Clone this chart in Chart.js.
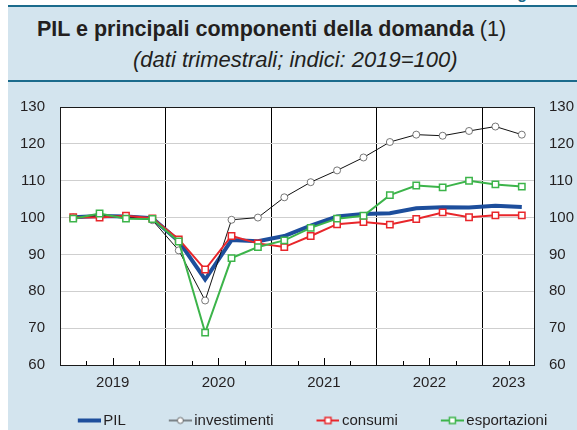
<!DOCTYPE html>
<html>
<head>
<meta charset="utf-8">
<script src="https://cdn.jsdelivr.net/npm/chart.js@4.4.1/dist/chart.umd.min.js"></script>
<style>
  html, body { margin: 0; padding: 0; background: #fff; }
  body { width: 577px; height: 430px; overflow: hidden; position: relative; font-family: "Liberation Sans", Arial, sans-serif; color: #231f20; }
  #fig { position: absolute; left: 503px; top: -14px; font: bold 16px/16px "Liberation Sans", Arial, sans-serif; color: #1b6b8c; white-space: nowrap; }
  #panel { position: absolute; left: 8px; top: 5px; width: 569px; height: 425px; background: #d3e4ee; border-top: 2px solid #1b6b8c; box-sizing: border-box; }
  #rule { position: absolute; left: 8px; top: 80px; width: 569px; height: 2px; background: #1b6b8c; }
  #title { position: absolute; left: 37px; top: 17px; font-size: 21.5px; font-weight: bold; white-space: nowrap; }
  #title span { font-weight: normal; }
  #subtitle { position: absolute; left: 133px; top: 47px; font-size: 22px; font-style: italic; white-space: nowrap; }
  #chart { position: absolute; left: 8px; top: 83px; }
</style>
</head>
<body>
<div id="fig">Figura</div>
<div id="panel"></div>
<div id="rule"></div>
<div id="title">PIL e principali componenti della domanda <span>(1)</span></div>
<div id="subtitle">(dati trimestrali; indici: 2019=100)</div>
<canvas id="chart" width="569" height="355"></canvas>
<script>
// dati trimestrali, 2019 T1 - 2023 T2
const trimestri = ['2019 T1', '2019 T2', '2019 T3', '2019 T4',
                   '2020 T1', '2020 T2', '2020 T3', '2020 T4',
                   '2021 T1', '2021 T2', '2021 T3', '2021 T4',
                   '2022 T1', '2022 T2', '2022 T3', '2022 T4',
                   '2023 T1', '2023 T2'];
const pil = [100.1, 100.4, 100.3, 99.8, 93.6, 83.2, 93.9, 93.6, 95.0,
             97.8, 100.3, 101.0, 101.2, 102.5, 102.8, 102.7, 103.2, 102.9];
const investimenti = [100.0, 100.5, 100.3, 99.3, 91.1, 77.5, 99.4, 100.0, 105.5,
                      109.6, 112.8, 116.3, 120.5, 122.5, 122.2, 123.5, 124.7, 122.5];
const consumi = [100.1, 100.0, 100.5, 99.8, 94.1, 85.9, 95.0, 93.0, 92.0,
                 95.0, 98.2, 98.8, 98.1, 99.6, 101.4, 100.1, 100.6, 100.6];
const esportazioni = [99.7, 101.1, 99.7, 99.6, 93.5, 68.8, 89.0, 92.0, 93.8,
                      97.2, 99.7, 100.5, 106.1, 108.7, 108.2, 110.0, 109.0, 108.4];
const yTicks = [60, 70, 80, 90, 100, 110, 120, 130];

const FONT = '"Liberation Sans", Arial, sans-serif';

// year of each quarter, year boundaries and year label positions
const anni = trimestri.map(t => t.slice(0, 4));
const confini = new Set();
const centriAnno = {};
anni.forEach((a, i) => {
    if (i > 0 && a !== anni[i - 1]) confini.add(i);
    const first = anni.indexOf(a);
    const last = anni.lastIndexOf(a);
    centriAnno[(first + last + 1) / 2] = a;
});

function toPoints(values) {
    return values.map((v, i) => ({x: i + 0.5, y: v}));
}

// legend icon: short line with a marker in the middle
function makeIcon(color, lineWidth, marker) {
    const c = document.createElement('canvas');
    c.width = 68;
    c.height = 12;
    const g = c.getContext('2d');
    const x0 = c.width - 23, cx = c.width - 11.5, cy = 6;
    g.strokeStyle = color;
    g.lineWidth = lineWidth;
    g.beginPath();
    g.moveTo(x0, cy);
    g.lineTo(c.width, cy);
    g.stroke();
    if (marker === 'rect') {
        g.fillStyle = '#fff';
        g.lineWidth = 1.5;
        g.fillRect(cx - 3, cy - 3, 6, 6);
        g.strokeRect(cx - 3, cy - 3, 6, 6);
    } else if (marker === 'circle') {
        g.fillStyle = '#fff';
        g.strokeStyle = '#666';
        g.lineWidth = 1;
        g.beginPath();
        g.arc(cx, cy, 3, 0, Math.PI * 2);
        g.fill();
        g.stroke();
    }
    return c;
}

const BLUE = '#1d4e9c';
const RED = '#e8262b';
const GREEN = '#3cb44a';

const icons = [
    makeIcon(BLUE, 4, null),
    makeIcon('#222', 1, 'circle'),
    makeIcon(RED, 2, 'rect'),
    makeIcon(GREEN, 2, 'rect')
];

const framePlugin = {
    id: 'frame',
    beforeDraw(chart) {
        const {ctx, chartArea: a} = chart;
        ctx.save();
        ctx.fillStyle = '#fff';
        ctx.fillRect(a.left, a.top, a.right - a.left, a.bottom - a.top);
        ctx.restore();
    },
    beforeDatasetsDraw(chart) {
        const {ctx, chartArea: a, scales: {x}} = chart;
        ctx.save();
        ctx.strokeStyle = '#000';
        ctx.lineWidth = 1;
        // small inward ticks at quarter boundaries, longer at mid-year
        for (let i = 1; i < trimestri.length; i++) {
            if (confini.has(i)) continue;
            const px = Math.round(x.getPixelForValue(i)) + 0.5;
            const len = centriAnno[i] && (anni.lastIndexOf(anni[i]) - anni.indexOf(anni[i]) > 2) ? 7 : 4;
            ctx.beginPath();
            ctx.moveTo(px, a.bottom);
            ctx.lineTo(px, a.bottom - len);
            ctx.stroke();
        }
        ctx.strokeStyle = '#1a1a1a';
        ctx.strokeRect(Math.round(a.left) + 0.5, Math.round(a.top) + 0.5,
            Math.round(a.right - a.left) - 1, Math.round(a.bottom - a.top));
        ctx.restore();
    }
};

const tickFont = {family: FONT, size: 15};

new Chart(document.getElementById('chart'), {
    type: 'line',
    data: {
        datasets: [
            {
                label: 'PIL',
                data: toPoints(pil),
                borderColor: BLUE,
                borderWidth: 4,
                pointRadius: 0,
                order: 4
            },
            {
                label: 'investimenti',
                data: toPoints(investimenti),
                borderColor: '#111',
                borderWidth: 1,
                pointStyle: 'circle',
                pointRadius: 3.5,
                pointBorderWidth: 0.8,
                pointBorderColor: '#555',
                pointBackgroundColor: '#fff',
                order: 3
            },
            {
                label: 'consumi',
                data: toPoints(consumi),
                borderColor: RED,
                borderWidth: 2,
                pointStyle: 'rect',
                pointRadius: 4.5,
                pointBorderWidth: 1.5,
                pointBorderColor: RED,
                pointBackgroundColor: '#fff',
                order: 2
            },
            {
                label: 'esportazioni',
                data: toPoints(esportazioni),
                borderColor: GREEN,
                borderWidth: 2,
                pointStyle: 'rect',
                pointRadius: 4.5,
                pointBorderWidth: 1.5,
                pointBorderColor: GREEN,
                pointBackgroundColor: '#fff',
                order: 1
            }
        ]
    },
    options: {
        responsive: false,
        animation: false,
        devicePixelRatio: 1,
        layout: {padding: {top: 19, left: 0, right: 0, bottom: 0}},
        plugins: {
            legend: {
                position: 'bottom',
                labels: {
                    usePointStyle: true,
                    pointStyleWidth: 58,
                    padding: 3,
                    color: '#231f20',
                    font: {family: FONT, size: 15},
                    generateLabels(chart) {
                        return chart.data.datasets.map((ds, i) => ({
                            text: ds.label,
                            pointStyle: icons[i],
                            fillStyle: 'transparent',
                            strokeStyle: 'transparent',
                            lineWidth: 0,
                            fontColor: '#231f20',
                            datasetIndex: i
                        }));
                    }
                }
            },
            tooltip: {enabled: false}
        },
        scales: {
            x: {
                type: 'linear',
                min: 0,
                max: trimestri.length,
                afterBuildTicks(scale) {
                    scale.ticks = trimestri.map((t, i) => ({value: i}))
                        .concat([{value: trimestri.length}]);
                },
                afterFit(scale) { scale.height = 45; },
                grid: {
                    drawTicks: false,
                    color: c => confini.has(c.tick.value) ? '#000' : 'transparent',
                    lineWidth: 1
                },
                border: {display: false},
                ticks: {
                    autoSkip: false,
                    maxRotation: 0,
                    padding: 9,
                    color: '#231f20',
                    font: tickFont,
                    callback: v => centriAnno[v] || ''
                }
            },
            y: {
                position: 'left',
                min: 60,
                max: 130,
                afterBuildTicks(scale) { scale.ticks = yTicks.map(v => ({value: v})); },
                afterFit(scale) { scale.width = 52; },
                grid: {drawTicks: false, color: '#cfcfcf', lineWidth: 1},
                border: {display: false},
                ticks: {padding: 15, color: '#231f20', font: tickFont}
            },
            y2: {
                position: 'right',
                min: 60,
                max: 130,
                afterBuildTicks(scale) { scale.ticks = yTicks.map(v => ({value: v})); },
                afterFit(scale) { scale.width = 42; },
                grid: {display: false, drawTicks: false},
                border: {display: false},
                ticks: {padding: 14, color: '#231f20', font: tickFont}
            }
        }
    },
    plugins: [framePlugin]
});
</script>
</body>
</html>
